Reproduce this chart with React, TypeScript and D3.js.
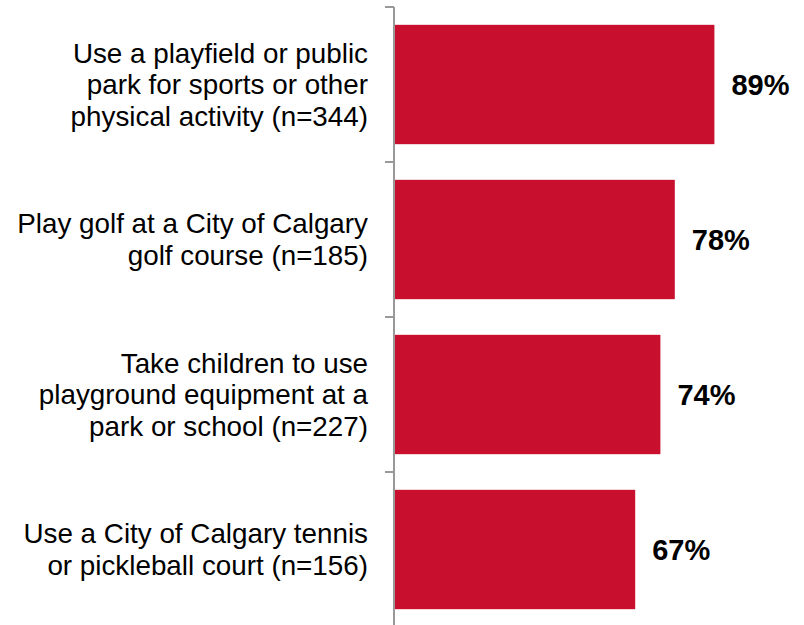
import * as d3 from "d3";

const categories = [
  ["Use a playfield or public", "park for sports or other", "physical activity (n=344)"],
  ["Play golf at a City of Calgary", "golf course (n=185)"],
  ["Take children to use", "playground equipment at a", "park or school (n=227)"],
  ["Use a City of Calgary tennis", "or pickleball court (n=156)"],
];
const values = [89, 78, 74, 67];

const W = 804;
const H = 625;
const axisX = 394;

export default function App() {
  const keys = categories.map((_, i) => String(i));
  const y = d3.scaleBand<string>().domain(keys).range([7, 627]).paddingInner(0.23).paddingOuter(0.115);
  const x = d3.scaleLinear().domain([0, 100]).range([axisX, axisX + 360]);
  const step = y.step();
  const tickYs = keys.map((k) => (y(k) ?? 0) - (step - y.bandwidth()) / 2);

  return (
    <svg width={W} height={H} style={{ position: "absolute", left: 0, top: 0 }} fontFamily="'Liberation Sans', Arial, sans-serif">
      {/* Bars */}
      {values.map((v, i) => (
        <rect key={i} x={x(0)} y={y(String(i))} width={x(v) - x(0)} height={y.bandwidth()} fill="#C8102E" />
      ))}

      {/* Axis */}
      <line x1={axisX} x2={axisX} y1={tickYs[0]} y2={H} stroke="#999" strokeWidth={2} />
      {tickYs.map((t, i) => (
        <line key={i} x1={axisX - 9} x2={axisX} y1={t} y2={t} stroke="#999" strokeWidth={2} />
      ))}

      {/* Category labels */}
      {categories.map((lines, i) => {
        const cy = (y(String(i)) ?? 0) + y.bandwidth() / 2;
        const lh = 31.5;
        const start = cy - ((lines.length - 1) * lh) / 2;
        return (
          <text key={i} x={axisX - 26} textAnchor="end" fontSize={27.8} fill="#000">
            {lines.map((l, j) => (
              <tspan key={j} x={axisX - 26} y={start + j * lh} dominantBaseline="central">
                {l}
              </tspan>
            ))}
          </text>
        );
      })}

      {/* Value labels */}
      {values.map((v, i) => (
        <text
          key={i}
          x={x(v) + 17}
          y={(y(String(i)) ?? 0) + y.bandwidth() / 2}
          dominantBaseline="central"
          fontSize={29}
          fontWeight={700}
          fill="#000"
        >
          {v}%
        </text>
      ))}
    </svg>
  );
}
